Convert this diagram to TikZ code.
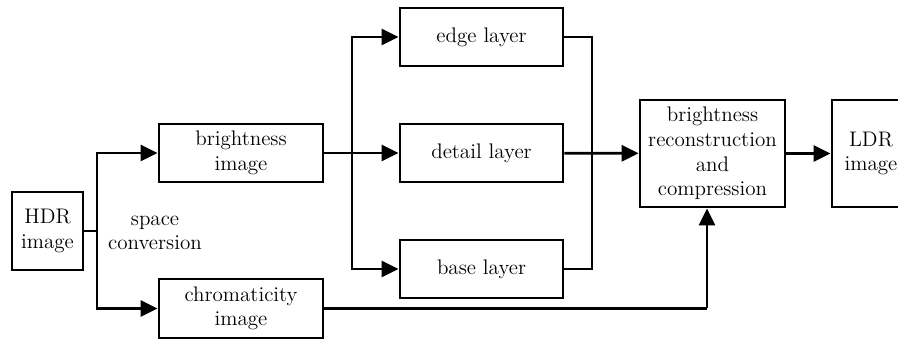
\documentclass[tikz,border=0pt]{standalone}
\usetikzlibrary{arrows.meta}
\begin{document}
\begin{tikzpicture}[x=0.02cm, y=-0.02cm, line width=1.6pt,
    >={Triangle[length=0.34cm, width=0.32cm]},
    block/.style={rectangle, draw, align=center, inner sep=2pt, font=\fontsize{12}{14}\selectfont}]
        \tikzstyle{every node}=[font=\fontsize{12}{14}\selectfont]
        \useasboundingbox (0,0) rectangle (898,340);

          \node[block, minimum width=1.42cm, minimum height=1.56cm] (hdr) at (47.5,231) {HDR\\image};
          \node[block, minimum width=3.28cm, minimum height=1.16cm] (bri) at (241,153) {brightness\\image};
          \node[block, minimum width=3.28cm, minimum height=1.18cm] (chr) at (241,308.5) {chromaticity\\image};
          \node[block, minimum width=3.26cm, minimum height=1.16cm] (edge) at (481.5,37) {edge layer};
          \node[block, minimum width=3.26cm, minimum height=1.16cm] (det) at (481.5,153) {detail layer};
          \node[block, minimum width=3.26cm, minimum height=1.16cm] (base) at (481.5,269) {base layer};
          \node[block, minimum width=2.9cm, minimum height=2.14cm] (rec) at (712.5,153.5) {brightness\\reconstruction\\and\\compression};
          \node[block, minimum width=1.56cm, minimum height=2.14cm] (ldr) at (871,153.5) {LDR\\image};
          \node[align=center] (conv) at (155,233) {space\\conversion};

          \coordinate (split) at (97,231);
          \coordinate (fork) at (352,153);
          \coordinate (merge) at (592,153);
          \coordinate (up) at (707,308.5);

          \draw (hdr) -- (split);
          \draw[->] (split) |- (bri);
          \draw[->] (split) |- (chr);
          \draw[->] (bri) -- (det);
          \draw[->] (fork) |- (edge);
          \draw[->] (fork) |- (base);
          \draw (edge) -| (merge);
          \draw (base) -| (merge);
          \draw[->] (det) -- (rec);
          \draw (chr) -- (up);
          \draw[->] (up) -- (up |- rec.south);
          \draw[->] (rec) -- (ldr);

        \end{tikzpicture}
\end{document}
